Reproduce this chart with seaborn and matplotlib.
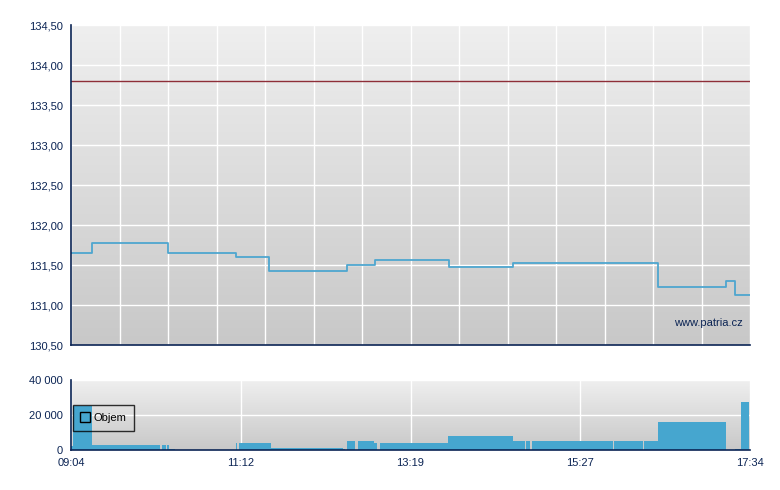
import numpy as np
import pandas as pd
import matplotlib
matplotlib.use("Agg")
import matplotlib.pyplot as plt
from matplotlib.colors import LinearSegmentedColormap
from matplotlib.lines import Line2D
import seaborn as sns

# --- DATA ---
START = "09:04"
END = "17:34"

# price steps (time of change, price)
price_times = ["09:04", "09:20", "10:17", "11:08", "11:33", "12:31", "12:52",
               "13:48", "14:36", "16:25", "17:16", "17:23", "17:34"]
price_values = [131.65, 131.77, 131.65, 131.60, 131.42, 131.50, 131.56,
                131.47, 131.52, 131.23, 131.30, 131.12, 131.13]
reference_price = 133.80

# volume blocks (start minute, end minute after 09:04, volume)
vol_start = [0.0, 1.3, 15.5, 68.3, 71.9, 73.4, 124.0, 126.2, 150.0, 204.3,
             207.3, 215.3, 227.6, 232.0, 283.0, 332.0, 341.7, 346.3, 407.8,
             430.4, 441.0, 498.7, 503.2]
vol_end = [1.3, 15.5, 66.8, 71.4, 73.4, 78.1, 124.7, 150.0, 204.3, 205.8,
           213.3, 227.6, 229.6, 283.0, 332.0, 341.0, 344.7, 406.9, 429.6,
           441.0, 491.7, 503.2, 509.0]
vol_values = [2300, 25300, 3000, 3000, 3000, 760, 4000, 4000, 1150, 800,
              5150, 5150, 4000, 4000, 8000, 5150, 5150, 5150, 5150,
              5150, 16000, 600, 27400]

price_ticks = [130.5, 131.0, 131.5, 132.0, 132.5, 133.0, 133.5, 134.0, 134.5]
price_labels = ["130,50", "131,00", "131,50", "132,00", "132,50", "133,00",
                "133,50", "134,00", "134,50"]
vol_ticks = [0, 20000, 40000]
vol_labels = ["0", "20 000", "40 000"]
time_labels = ["09:04", "11:12", "13:19", "15:27", "17:34"]

NAVY = "#0b2454"
BLUE = "#46a6cf"


def minutes(t):
    h, m = t.split(":")
    return int(h) * 60 + int(m)


t0 = minutes(START)
span = minutes(END) - t0

df = pd.DataFrame({"t": [minutes(t) - t0 for t in price_times], "price": price_values})

sns.set_theme(style="white")
plt.rcParams["font.family"] = ["Liberation Sans", "DejaVu Sans"]

fig = plt.figure(figsize=(7.8, 4.9), dpi=100)
ax1 = fig.add_axes([71 / 780, 1 - 345 / 490, 679 / 780, 320 / 490])
ax2 = fig.add_axes([71 / 780, 1 - 450 / 490, 679 / 780, 70 / 490])

cmap = LinearSegmentedColormap.from_list("bg", ["#c8c8c8", "#efefef"])
grad = np.linspace(0, 1, 256).reshape(-1, 1)
for ax in (ax1, ax2):
    ax.imshow(grad, extent=[0, 1, 0, 1], transform=ax.transAxes, aspect="auto",
              cmap=cmap, origin="lower", zorder=0)
    for s in ("top", "right"):
        ax.spines[s].set_visible(False)
    for s in ("left", "bottom"):
        ax.spines[s].set_color(NAVY)
        ax.spines[s].set_linewidth(1.2)
        ax.spines[s].set_zorder(5)
    ax.tick_params(axis="both", direction="out", length=4.5, width=1, color=NAVY,
                   labelcolor=NAVY, labelsize=8, pad=1.5)
    ax.grid(True, color="white", linewidth=1, zorder=1)
    ax.set_axisbelow(False)
    ax.set_xlim(0, span)
    ax.set_xlabel("")
    ax.set_ylabel("")

# --- price chart ---
sns.lineplot(data=df, x="t", y="price", ax=ax1, drawstyle="steps-post",
             color="#4ea6cf", linewidth=1.3, zorder=3)
ax1.axhline(reference_price, color="#8e2e38", linewidth=1, zorder=3)
ax1.set_ylim(price_ticks[0], price_ticks[-1])
ax1.set_yticks(price_ticks)
ax1.set_yticklabels(price_labels)
ax1.set_xticks(np.linspace(0, span, 15))
ax1.set_xticklabels([])
ax1.set_xlabel("")
ax1.set_ylabel("")
ax1.text(0.99, 0.069, "www.patria.cz", transform=ax1.transAxes, ha="right",
         va="center", fontsize=8, color=NAVY, zorder=4)

# --- volume chart ---
widths = [e - s for s, e in zip(vol_start, vol_end)]
ax2.bar(vol_start, vol_values, width=widths, align="edge", color=BLUE,
        linewidth=0, zorder=2)
ax2.set_ylim(0, 40000)
ax2.set_yticks(vol_ticks)
ax2.set_yticklabels(vol_labels)
ax2.set_xticks(np.linspace(0, span, len(time_labels)))
ax2.set_xticklabels(time_labels)
ax2.grid(True, color="white", linewidth=1, zorder=1)
ax2.set_axisbelow(True)

handle = Line2D([], [], linestyle="none", marker="s", markersize=7,
                markerfacecolor="none", markeredgecolor="black", markeredgewidth=1)
leg = ax2.legend([handle], ["Objem"], loc="upper left",
                 bbox_to_anchor=(0.003, 0.643), borderaxespad=0, fontsize=8,
                 frameon=True, fancybox=False, handlelength=0.8,
                 handletextpad=0.3, borderpad=0.7)
leg.get_frame().set_facecolor("none")
leg.get_frame().set_edgecolor("black")
leg.get_frame().set_linewidth(1)
for t in leg.get_texts():
    t.set_color("black")

fig.savefig("out.png", dpi=100)
